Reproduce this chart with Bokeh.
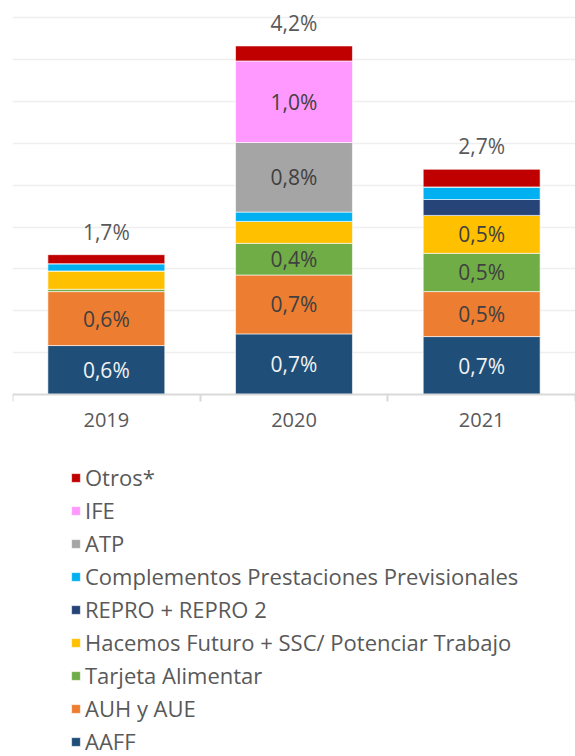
from bokeh.plotting import figure
from bokeh.models import (ColumnDataSource, Range1d, FixedTicker, Legend, LegendItem,
                          LinearAxis)
from bokeh.core.properties import value
from bokeh.embed import file_html
from bokeh.resources import INLINE

categories = ["2019", "2020", "2021"]

series_names = [
    "AAFF",
    "AUH y AUE",
    "Tarjeta Alimentar",
    "Hacemos Futuro + SSC/ Potenciar Trabajo",
    "REPRO + REPRO 2",
    "Complementos Prestaciones Previsionales",
    "ATP",
    "IFE",
    "Otros*",
]
aaff = [0.587, 0.726, 0.694]
auh = [0.643, 0.702, 0.536]
tarjeta = [0.028, 0.377, 0.456]
hacemos = [0.218, 0.262, 0.452]
repro = [0.0, 0.0, 0.190]
complementos = [0.087, 0.111, 0.150]
atp = [0.0, 0.829, 0.0]
ife = [0.0, 0.972, 0.0]
otros = [0.107, 0.179, 0.210]
series_values = [aaff, auh, tarjeta, hacemos, repro, complementos, atp, ife, otros]

colors = ["#1F4E79", "#ED7D31", "#70AD47", "#FFC000", "#264478",
          "#00B0F0", "#A5A5A5", "#FF99FF", "#C00000"]

FONT = "Open Sans"
TXT = "#595959"

W, H = 575, 756
BASE = 394.3          # pixel row of the zero line
PX_PER_UNIT = 83.9    # pixels per 1 percentage point
y_top = BASE / PX_PER_UNIT
y_bot = -(H - BASE) / PX_PER_UNIT

xs = [i + 0.5 for i in range(len(categories))]
keys = ["s%d" % i for i in range(len(series_names))]
data = {"x": xs}
for k, v in zip(keys, series_values):
    data[k] = v
source = ColumnDataSource(data)

p = figure(width=W, height=H, output_backend="svg", toolbar_location=None,
           x_range=Range1d(0, len(categories)), y_range=Range1d(y_bot, y_top),
           x_axis_location=None, y_axis_location=None,
           min_border_left=12, min_border_right=0,
           min_border_top=0, min_border_bottom=0)
p.outline_line_color = None
p.background_fill_color = "white"
p.border_fill_color = "white"

p.xgrid.grid_line_color = None
p.ygrid.ticker = FixedTicker(ticks=[0.5 * k for k in range(1, 10)])
p.ygrid.grid_line_color = "#EFEFEF"
p.ygrid.grid_line_width = 1.5

renderers = p.vbar_stack(keys, x="x", width=0.623, color=colors, source=source,
                         line_color="white", line_width=0.6)

# category axis at zero
xaxis = LinearAxis(fixed_location=0)
xaxis.ticker = FixedTicker(ticks=xs, minor_ticks=list(range(len(categories) + 1)))
xaxis.major_label_overrides = {x: c for x, c in zip(xs, categories)}
xaxis.axis_line_color = "#D9D9D9"
xaxis.axis_line_width = 2
xaxis.major_tick_line_color = None
xaxis.major_tick_out = 0
xaxis.major_tick_in = 0
xaxis.minor_tick_line_color = "#D9D9D9"
xaxis.minor_tick_line_width = 2
xaxis.minor_tick_out = 7
xaxis.minor_tick_in = 0
xaxis.major_label_text_font = FONT
xaxis.major_label_text_font_size = "20px"
xaxis.major_label_text_color = TXT
xaxis.major_label_standoff = 11
p.add_layout(xaxis, "below")

# segment labels
lx, ly, lt, lc = [], [], [], []
for i in range(len(categories)):
    bottom = 0.0
    for j, vals in enumerate(series_values):
        v = vals[i]
        if v >= 0.3:
            lx.append(xs[i])
            ly.append(bottom + v / 2)
            lt.append(f"{v:.1f}".replace(".", ",") + "%")
            lc.append("#F2F2F2" if j == 0 else "#404040")
        bottom += v
p.text(x="x", y="y", text="t", text_color="c",
       source=ColumnDataSource(dict(x=lx, y=ly, t=lt, c=lc)),
       text_font=value(FONT), text_font_size="21px",
       text_align="center", text_baseline="middle")

# totals
totals = [sum(vals[i] for vals in series_values) for i in range(len(categories))]
tt = [f"{t:.1f}".replace(".", ",") + "%" for t in totals]
p.text(x="x", y="y", text="t",
       source=ColumnDataSource(dict(x=xs, y=totals, t=tt)),
       text_font=value(FONT), text_font_size="21px", text_color=TXT,
       text_align="center", text_baseline="alphabetic", y_offset=-23)

# legend (reversed order)
items = [LegendItem(label=series_names[j], renderers=[renderers[j]])
         for j in reversed(range(len(series_names)))]
legend = Legend(items=items, location=(58, 0),
                orientation="vertical", padding=0, margin=0, spacing=3,
                glyph_width=11, glyph_height=11, label_height=30,
                label_standoff=4, border_line_color=None,
                background_fill_alpha=0,
                label_text_font=FONT, label_text_font_size="22px",
                label_text_color=TXT)
p.add_layout(legend, "center")

open("out.html", "w").write(file_html(p, INLINE))
